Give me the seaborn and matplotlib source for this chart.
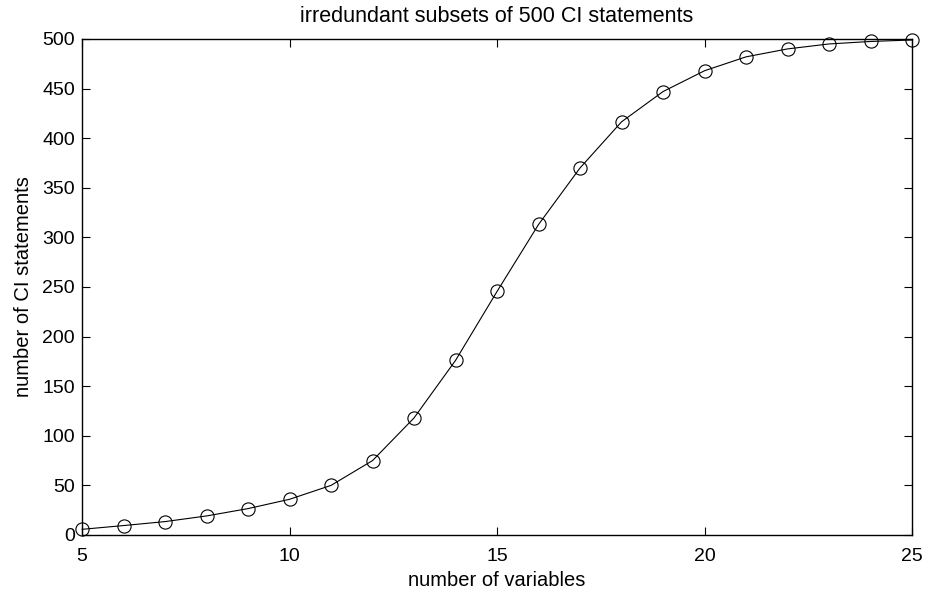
import pandas as pd
import matplotlib
matplotlib.use('Agg')
import matplotlib.pyplot as plt
import seaborn as sns

# data
n_vars = [5, 6, 7, 8, 9, 10, 11, 12, 13, 14, 15, 16, 17, 18, 19, 20, 21, 22, 23, 24, 25]
n_ci = [5.7, 9.5, 13.5, 19.2, 26.6, 36, 50, 75, 118, 176, 245.5, 313, 370, 416.5,
        447, 468, 482, 490, 495, 497.5, 499]

df = pd.DataFrame({'vars': n_vars, 'ci': n_ci})

sns.set_style('ticks')
plt.rcParams['font.family'] = ['Liberation Sans', 'DejaVu Sans']
plt.rcParams['text.color'] = 'black'
plt.rcParams['axes.labelcolor'] = 'black'

fig = plt.figure(figsize=(9.28, 5.89), dpi=100)
ax = fig.add_axes([0.0884, 0.0917, 0.8944, 0.8421])

sns.lineplot(data=df, x='vars', y='ci', ax=ax, color='black', linewidth=0.8,
             marker='o', markersize=9.5, markerfacecolor='none',
             markeredgecolor='black', markeredgewidth=0.8, clip_on=False)

ax.set_xlim(5, 25)
ax.set_ylim(0, 500)
ax.set_xticks([5, 10, 15, 20, 25])
ax.set_yticks(range(0, 501, 50))
ax.tick_params(direction='in', top=True, right=True, length=6, width=0.8,
               labelsize=14, colors='black')
ax.tick_params(axis='x', pad=9.5)
ax.tick_params(axis='y', pad=5)
for s in ax.spines.values():
    s.set_linewidth(1.0)
    s.set_color('black')

ax.set_xlabel('number of variables', fontsize=14.5, labelpad=4.5)
ax.set_ylabel('number of CI statements', fontsize=14.5, labelpad=7)
ax.set_title('irredundant subsets of 500 CI statements', fontsize=15.5, pad=12)

fig.savefig('out.png', dpi=100)
